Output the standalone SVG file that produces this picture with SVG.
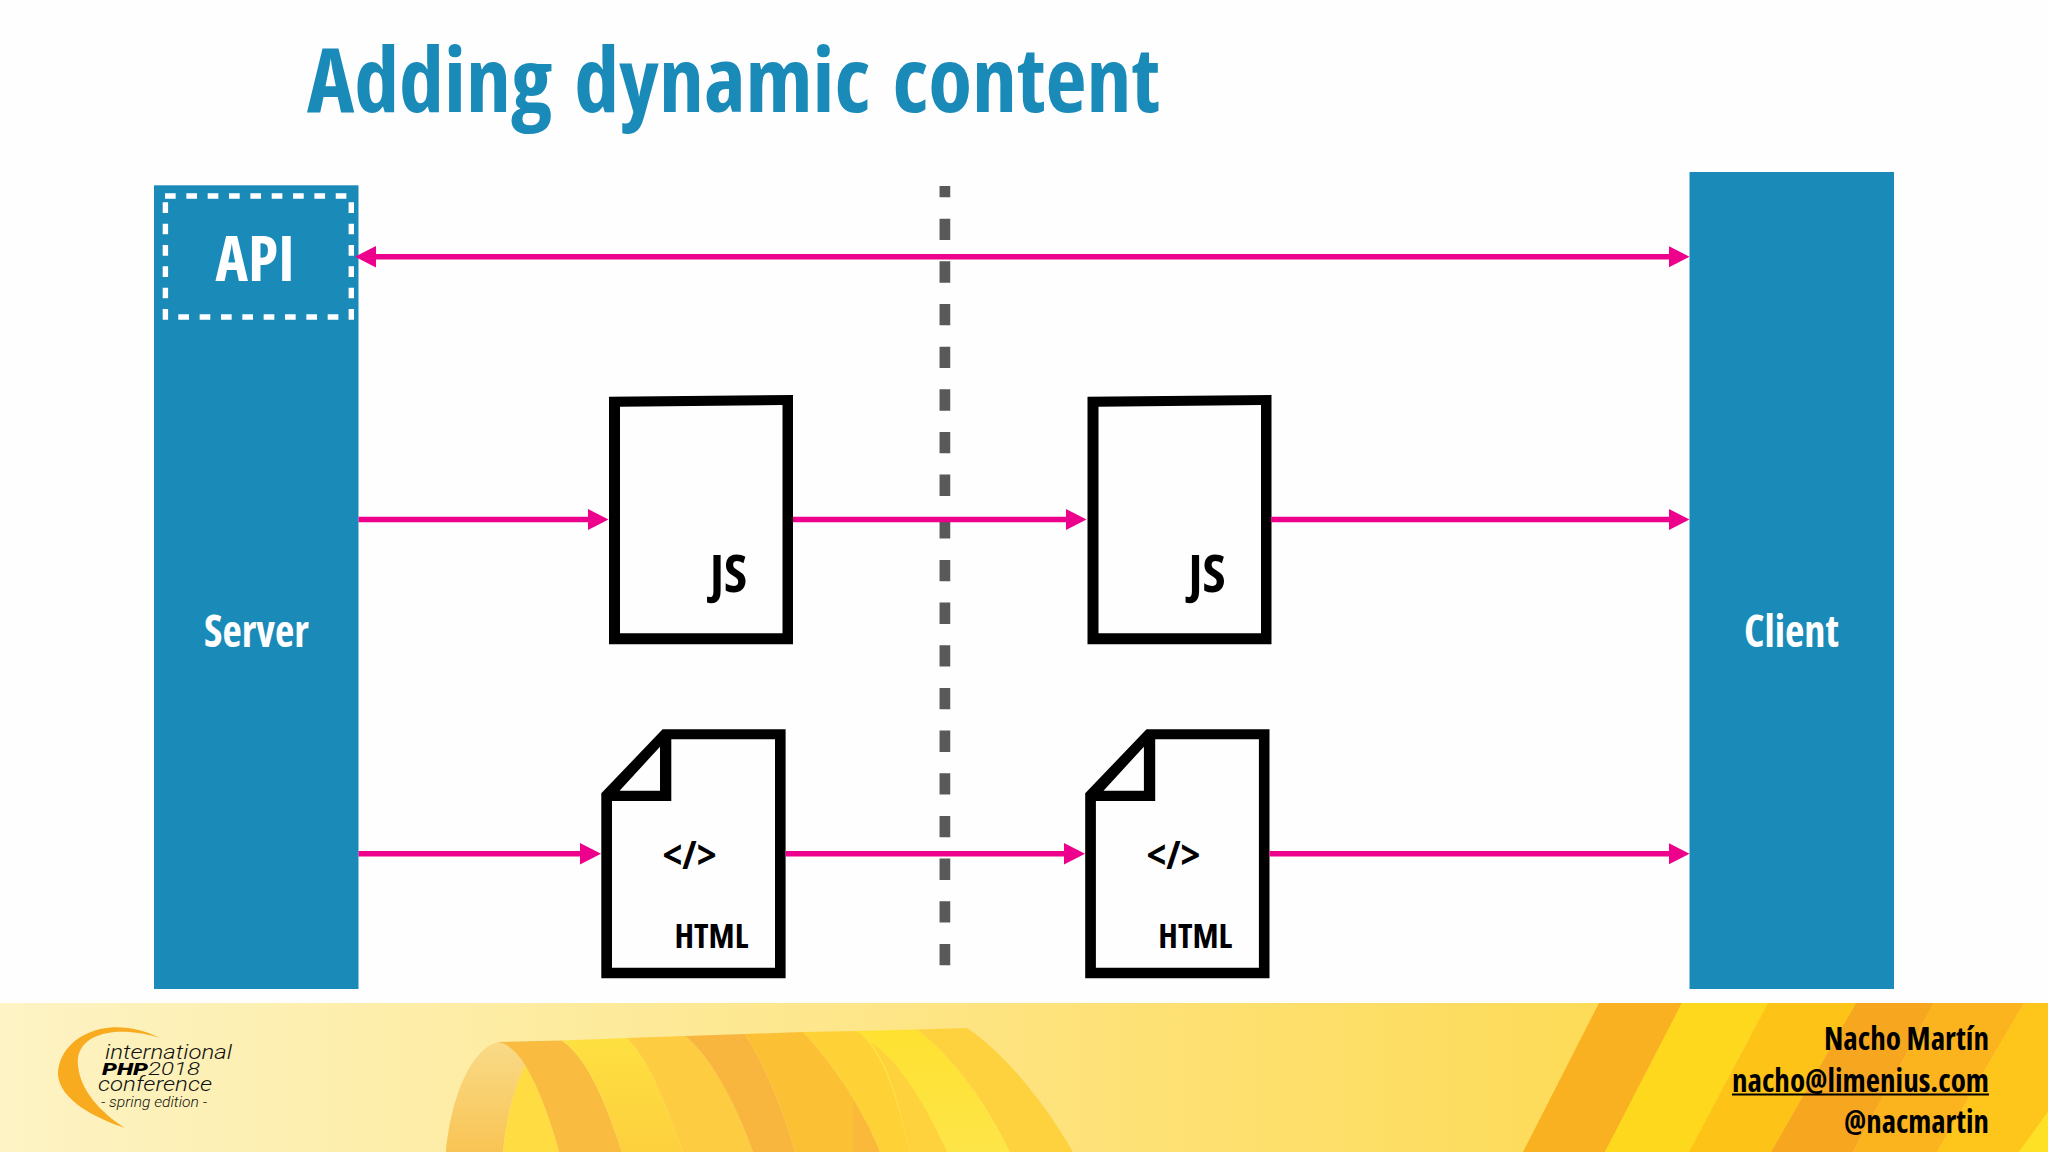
<svg xmlns="http://www.w3.org/2000/svg" width="2048" height="1152" viewBox="0 0 2048 1152">
<style>
text{font-family:"Open Sans","Liberation Sans",sans-serif;font-weight:700;font-stretch:75%}
.bar{fill:#1a8bb9}
.w{fill:#fff}
.k{fill:#000}
.doc{fill:#000;fill-rule:evenodd}
.conn{stroke:#ec008c;stroke-width:5.5;fill:none}
.dash{stroke:#fff;stroke-width:5.4;stroke-dasharray:10.67 10.67;fill:none}
text.logo{font-family:"Roboto","Liberation Sans",sans-serif;font-style:italic;font-weight:300;font-stretch:100%;fill:#111}
text.php{font-weight:900;fill:#000}
</style>
<defs>
<marker id="a" markerUnits="userSpaceOnUse" markerWidth="22" markerHeight="22" viewBox="0 0 22 22" refX="1" refY="11" orient="auto-start-reverse"><path d="M0 0.3L21 11L0 21.7z" fill="#ec008c"/></marker>
<linearGradient id="foot" x1="0" x2="1" y1="0" y2="0"><stop offset="0" stop-color="#fdf3c4"/><stop offset=".25" stop-color="#fdeca2"/><stop offset=".55" stop-color="#fee176"/><stop offset=".8" stop-color="#fddb55"/></linearGradient>
<linearGradient id="lf" x1="0" x2="0" y1="0" y2="1"><stop offset="0" stop-color="#f9da88"/><stop offset="1" stop-color="#f9c454"/></linearGradient>
<linearGradient id="bb" x1="0" x2="0" y1="0" y2="1"><stop offset="0" stop-color="#fee040"/><stop offset="1" stop-color="#fdd03e"/></linearGradient>
<linearGradient id="ff" x1="0" x2="0" y1="0" y2="1"><stop offset="0" stop-color="#fee130"/><stop offset="1" stop-color="#fee548"/></linearGradient>
</defs>
<rect width="2048" height="1152" fill="#fefefe"/>
<text x="307" y="111.5" font-size="90" fill="#1a8bb9" word-spacing="6" textLength="853" lengthAdjust="spacingAndGlyphs">Adding dynamic content</text>

<g id="footer">
<rect y="1003" width="2048" height="149" fill="url(#foot)"/>
<path d="M1599 1003H1682L1605 1152H1523z" fill="#f9b121"/>
<path d="M1682 1003H1768L1689 1152H1605z" fill="#fed81c"/>
<path d="M1768 1003H1856L1771 1152H1689z" fill="#fdc317"/>
<path d="M1856 1003H1934L1853 1152H1771z" fill="#f7a71f"/>
<path d="M1934 1003H2024L1937 1152H1853z" fill="#fbb41d"/>
<path d="M2024 1003H2048V1112L2019 1152H1937z" fill="#fec51a"/>
<path d="M2048 1112V1152H2019z" fill="#fee024"/>
<g id="ribbon">
<path d="M446 1152C450 1105 468 1050 498 1042Q512 1042 525 1065C515 1085 506 1120 503 1152z" fill="url(#lf)"/>
<path d="M525 1065C540 1090 552 1125 559 1152H503C506 1120 515 1085 525 1065z" fill="#fedc42"/>
<path d="M498 1042L562 1040.5C590 1060 608 1110 622 1152H559C552 1125 540 1090 525 1065Q512 1044 498 1042z" fill="#f9bb40"/>
<path d="M562 1040.5L627 1038C650 1060 670 1115 683 1152H622C608 1110 590 1060 562 1040.5z" fill="url(#bb)"/>
<path d="M627 1038L685 1036C715 1060 740 1115 753 1152H683C670 1115 650 1060 627 1038z" fill="#fdcc40"/>
<path d="M685 1036L745 1034C765 1065 785 1115 795 1152H753C740 1115 715 1060 685 1036z" fill="#f8b63e"/>
<path d="M745 1034L803 1032C830 1060 865 1110 880 1152H795C785 1115 765 1065 745 1034z" fill="#fcc034"/>
<path d="M853 1100C862 1115 873 1135 880 1152H853z" fill="#fab93a"/>
<path d="M803 1032L857 1031C885 1050 900 1110 910 1152H880C865 1110 830 1060 803 1032z" fill="#fed236"/>
<path d="M857 1031L917 1029.5C957 1060 990 1110 1010 1152H910C900 1110 885 1050 857 1031z" fill="url(#ff)"/>
<path d="M870 1042C900 1060 928 1110 947 1152H910C900 1110 890 1065 870 1042z" fill="#fdd23c"/>
<path d="M917 1029.5L967 1028C1000 1050 1040 1095 1073 1152H1010C990 1110 957 1060 917 1029.5z" fill="#fed23f"/>
</g>
<g id="logo">
<path d="M160 1038C140 1028 120 1025 100 1029C72 1036 58 1055 58 1075C60 1100 95 1118 125 1128C100 1112 80 1090 78 1065C76 1045 92 1034 115 1032C130 1031 148 1034 160 1038z" fill="#f8ab1f"/>
<text class="logo" x="105" y="1059" font-size="20" textLength="127" lengthAdjust="spacingAndGlyphs">international</text>
<text class="logo php" x="102" y="1075" font-size="17" textLength="46" lengthAdjust="spacingAndGlyphs">PHP</text>
<text class="logo" x="148" y="1075" font-size="18" textLength="52" lengthAdjust="spacingAndGlyphs">2018</text>
<text class="logo" x="98" y="1091" font-size="20" textLength="114" lengthAdjust="spacingAndGlyphs">conference</text>
<text class="logo" x="101" y="1107" font-size="14" textLength="106" lengthAdjust="spacingAndGlyphs">- spring edition -</text>
</g>
<text class="k" x="1989" y="1050" font-size="32" text-anchor="end" textLength="165" lengthAdjust="spacingAndGlyphs">Nacho Martín</text>
<text class="k" x="1989" y="1091.5" font-size="32" text-anchor="end" textLength="257" lengthAdjust="spacingAndGlyphs">nacho@limenius.com</text>
<rect x="1732" y="1093.5" width="257" height="2" fill="#000"/>
<text class="k" x="1989" y="1132.5" font-size="32" text-anchor="end" textLength="145" lengthAdjust="spacingAndGlyphs">@nacmartin</text>
</g>

<line x1="944.9" x2="944.9" y1="186" y2="965.3" stroke="#58595b" stroke-width="10.7" stroke-dasharray="21.33 21.33" stroke-dashoffset="10"/>

<g id="server">
<rect class="bar" x="154" y="185.3" width="204.5" height="803.7"/>
<text class="w" x="204" y="646.5" font-size="44" textLength="105" lengthAdjust="spacingAndGlyphs">Server</text>
</g>
<g id="api">
<line class="dash" x1="165" x2="351" y1="196" y2="196"/>
<line class="dash" x1="351.3" x2="351.3" y1="202.3" y2="320"/>
<line class="dash" x1="165.4" x2="165.4" y1="202.3" y2="320"/>
<line class="dash" x1="178.3" x2="340" y1="317" y2="317"/>
<text class="w" x="215.5" y="280.7" font-size="63" textLength="79" lengthAdjust="spacingAndGlyphs">API</text>
</g>
<g id="client">
<rect class="bar" x="1689.5" y="172" width="204.5" height="817"/>
<text class="w" x="1744" y="646.5" font-size="44" textLength="95" lengthAdjust="spacingAndGlyphs">Client</text>
</g>

<g id="js-server">
<path class="doc" d="M609 396.7L793 395V644.3H609zM620 406.7V633.3H782.5V405z"/>
<text class="k" x="710" y="591.7" font-size="52" textLength="37" lengthAdjust="spacingAndGlyphs">JS</text>
</g>
<g id="js-client" transform="translate(478.5 0)">
<path class="doc" d="M609 396.7L793 395V644.3H609zM620 406.7V633.3H782.5V405z"/>
<text class="k" x="710" y="591.7" font-size="52" textLength="37" lengthAdjust="spacingAndGlyphs">JS</text>
</g>
<g id="html-server">
<path class="doc" d="M662.6 729.3H785.6V978.3H601.3V793.3zM671.3 739.3V801H612V967.7H775V739.3zM660 746.7L619.6 790.7H660z"/>
<text class="k" x="662.5" y="868.5" font-size="40" textLength="54" lengthAdjust="spacingAndGlyphs" style="font-stretch:100%">&lt;/&gt;</text>
<text class="k" x="674.4" y="948" font-size="34" textLength="74" lengthAdjust="spacingAndGlyphs">HTML</text>
</g>
<g id="html-client" transform="translate(483.9 0)">
<path class="doc" d="M662.6 729.3H785.6V978.3H601.3V793.3zM671.3 739.3V801H612V967.7H775V739.3zM660 746.7L619.6 790.7H660z"/>
<text class="k" x="662.5" y="868.5" font-size="40" textLength="54" lengthAdjust="spacingAndGlyphs" style="font-stretch:100%">&lt;/&gt;</text>
<text class="k" x="674.4" y="948" font-size="34" textLength="74" lengthAdjust="spacingAndGlyphs">HTML</text>
</g>

<g id="connectors">
<line class="conn" x1="375" x2="1669.5" y1="256.7" y2="256.7" marker-start="url(#a)" marker-end="url(#a)"/>
<line class="conn" x1="358.5" x2="588.5" y1="519.5" y2="519.5" marker-end="url(#a)"/>
<line class="conn" x1="793" x2="1066.5" y1="519.5" y2="519.5" marker-end="url(#a)"/>
<line class="conn" x1="1271" x2="1669.5" y1="519.5" y2="519.5" marker-end="url(#a)"/>
<line class="conn" x1="358.5" x2="581" y1="853.7" y2="853.7" marker-end="url(#a)"/>
<line class="conn" x1="785.6" x2="1065" y1="853.7" y2="853.7" marker-end="url(#a)"/>
<line class="conn" x1="1269.5" x2="1669.5" y1="853.7" y2="853.7" marker-end="url(#a)"/>
</g>
</svg>
